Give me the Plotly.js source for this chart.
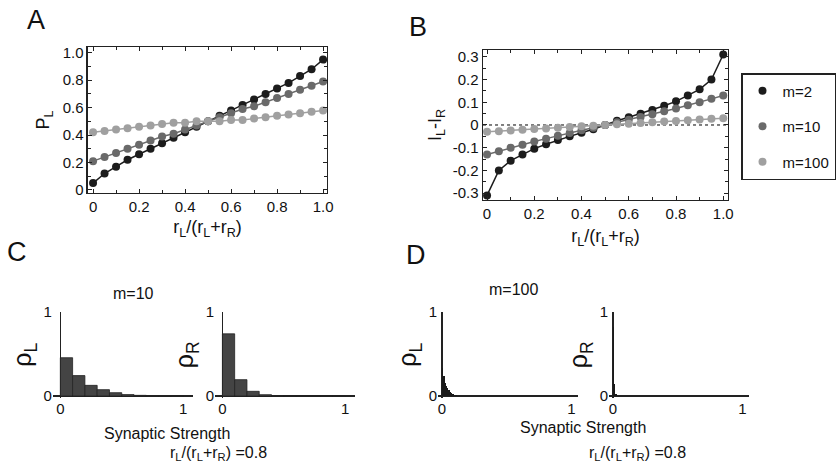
<!DOCTYPE html>
<html>
<head>
<meta charset="utf-8">
<script src="https://cdn.plot.ly/plotly-3.0.1.min.js"></script>
<style>html,body{margin:0;padding:0;background:#fff;}#chart{width:838px;height:470px;}</style>
</head>
<body>
<div id="chart"></div>
<script>
// ---- Data ----
const ratio = [0,0.05,0.1,0.15,0.2,0.25,0.3,0.35,0.4,0.45,0.5,0.55,0.6,0.65,0.7,0.75,0.8,0.85,0.9,0.95,1.0];
const seriesNames = ['m=2','m=10','m=100'];
const pL_m2   = [0.05,0.12,0.17,0.22,0.26,0.30,0.34,0.38,0.42,0.46,0.50,0.54,0.58,0.62,0.66,0.70,0.74,0.78,0.83,0.88,0.95];
const pL_m10  = [0.21,0.24,0.27,0.30,0.33,0.36,0.39,0.41,0.44,0.47,0.50,0.53,0.56,0.59,0.61,0.64,0.67,0.70,0.73,0.76,0.79];
const pL_m100 = [0.42,0.43,0.44,0.45,0.46,0.47,0.48,0.49,0.49,0.50,0.50,0.50,0.51,0.51,0.52,0.53,0.54,0.55,0.56,0.57,0.58];
const dI_m2   = [-0.31,-0.20,-0.157,-0.13,-0.104,-0.085,-0.066,-0.05,-0.034,-0.019,0,0.019,0.034,0.05,0.066,0.085,0.104,0.13,0.157,0.20,0.31];
const dI_m10  = [-0.13,-0.115,-0.10,-0.087,-0.073,-0.06,-0.047,-0.035,-0.023,-0.012,0,0.012,0.023,0.035,0.047,0.06,0.073,0.087,0.10,0.115,0.13];
const dI_m100 = [-0.030,-0.027,-0.024,-0.021,-0.018,-0.015,-0.012,-0.009,-0.006,-0.003,0,0.003,0.006,0.009,0.012,0.015,0.018,0.021,0.024,0.027,0.030];

const xTickVals = [0,0.2,0.4,0.6,0.8,1.0];
const xTickText = ['0','0.2','0.4','0.6','0.8','1.0'];
const pTickVals = [0,0.2,0.4,0.6,0.8,1.0];
const pTickText = ['0','0.2','0.4','0.6','0.8','1.0'];
const iTickVals = [-0.3,-0.2,-0.1,0,0.1,0.2,0.3];
const iTickText = ['-0.3','-0.2','-0.1','0','0.1','0.2','0.3'];

// Histograms, m=10 (bin width 0.1)
const binsC = [0.05,0.15,0.25,0.35,0.45,0.55,0.65,0.75,0.85,0.95];
const rhoL_m10 = [0.456,0.243,0.127,0.076,0.040,0.017,0.008,0.004,0.002,0.001];
const rhoR_m10 = [0.74,0.195,0.056,0.016,0.003,0.001,0,0,0,0];
// Histograms, m=100 (bin width 0.01)
const binsD = [0.005,0.015,0.025,0.035,0.045,0.055,0.065,0.075,0.085,0.095,0.105,0.115,0.125,0.135,0.145];
const rhoL_m100 = [0.33,0.24,0.16,0.12,0.09,0.07,0.05,0.035,0.025,0.018,0.012,0.008,0.005,0.003,0.002];
const rhoR_m100 = [0.82,0.14,0.02,0.003,0,0,0,0,0,0,0,0,0,0,0];
const histTicks = [0,1];

// ---- Styles ----
const colors = ['#1c1c1c','#6a6a6a','#a0a0a0'];
const FONT = 'Liberation Sans, Arial, sans-serif';
const TICK = 15, ATITLE = 18;

const traces = [];
const pSeries = [pL_m2,pL_m10,pL_m100];
const iSeries = [dI_m2,dI_m10,dI_m100];
for (let k=0;k<3;k++){
  traces.push({x:ratio,y:pSeries[k],xaxis:'x',yaxis:'y',mode:'lines+markers',
    line:{color:colors[k],width:1.5},marker:{color:colors[k],size:8},showlegend:false});
}
for (let k=0;k<3;k++){
  traces.push({x:ratio,y:iSeries[k],xaxis:'x2',yaxis:'y2',mode:'lines+markers',
    line:{color:colors[k],width:1.5},marker:{color:colors[k],size:8},showlegend:false});
}
// legend entries (markers only)
for (let k=0;k<3;k++){
  traces.push({x:[null],y:[null],xaxis:'x2',yaxis:'y2',mode:'markers',name:seriesNames[k],
    legendgroup:'g'+k,marker:{color:colors[k],size:8},showlegend:true});
}
const barC = {color:'#444',line:{color:'#222',width:0.8}};
traces.push({type:'bar',x:binsC,y:rhoL_m10,width:0.1,xaxis:'x3',yaxis:'y3',marker:barC,showlegend:false});
traces.push({type:'bar',x:binsC,y:rhoR_m10,width:0.1,xaxis:'x4',yaxis:'y4',marker:barC,showlegend:false});
const barD = {color:'#1a1a1a',line:{width:0}};
traces.push({type:'bar',x:binsD,y:rhoL_m100,width:0.01,xaxis:'x5',yaxis:'y5',marker:barD,showlegend:false});
traces.push({type:'bar',x:binsD,y:rhoR_m100,width:0.01,xaxis:'x6',yaxis:'y6',marker:barD,showlegend:false});

function frameAxis(extra){
  return Object.assign({
    showline:true, mirror:'allticks', linecolor:'#222', linewidth:1.5,
    ticks:'inside', ticklen:4, tickcolor:'#222', tickwidth:1,
    showgrid:false, zeroline:false, tickfont:{family:FONT,size:TICK,color:'#111'},
    tickmode:'array', automargin:false
  }, extra);
}
function histX(domain, range){
  return {domain:domain, range:range, showline:false, showgrid:false,
    zeroline:true, zerolinecolor:'#222', zerolinewidth:1.5,
    ticks:'', tickmode:'array', tickvals:histTicks, ticktext:['0','1'],
    tickfont:{family:FONT,size:TICK,color:'#111'}, automargin:false};
}
function histY(domain, anchor, title){
  return {domain:domain, anchor:anchor, range:[-0.02,1.0], showline:false, showgrid:false,
    zeroline:true, zerolinecolor:'#222', zerolinewidth:1.5,
    ticks:'', tickmode:'array', tickvals:histTicks, ticktext:['0','1'],
    tickfont:{family:FONT,size:TICK,color:'#111'}, automargin:false,
    title:{text:title, font:{family:FONT,size:25,color:'#111'}, standoff:4}};
}

const sub = (s)=>'<sub>'+s+'</sub>';
const ratioTitle = 'r'+sub('L')+'/(r'+sub('L')+'+r'+sub('R')+')';

const layout = {
  width:838, height:470,
  margin:{l:0,r:0,t:0,b:0,autoexpand:false},
  paper_bgcolor:'#fff', plot_bgcolor:'#fff',
  font:{family:FONT,color:'#111'},
  bargap:0,
  xaxis: frameAxis({domain:[0.1050,0.3902], range:[-0.022,1.017], anchor:'y',
    tickvals:xTickVals, ticktext:xTickText,
    minor:{ticks:'inside',dtick:0.1,tick0:0,ticklen:3,tickcolor:'#222'},
    title:{text:ratioTitle,font:{family:FONT,size:ATITLE},standoff:6}}),
  yaxis: frameAxis({domain:[0.5894,0.9], range:[-0.022,1.042], anchor:'x',
    tickvals:pTickVals, ticktext:pTickText,
    minor:{ticks:'inside',dtick:0.1,tick0:0,ticklen:3,tickcolor:'#222'},
    title:{text:'P'+sub('L'),font:{family:FONT,size:ATITLE},standoff:8}}),
  xaxis2: frameAxis({domain:[0.5764,0.8687], range:[-0.017,1.02], anchor:'y2',
    tickvals:xTickVals, ticktext:xTickText,
    minor:{ticks:'inside',dtick:0.1,tick0:0,ticklen:3,tickcolor:'#222'},
    title:{text:ratioTitle,font:{family:FONT,size:ATITLE},standoff:8}}),
  yaxis2: frameAxis({domain:[0.5745,0.8936], range:[-0.33,0.33], anchor:'x2',
    tickvals:iTickVals, ticktext:iTickText,
    minor:{ticks:'inside',dtick:0.05,tick0:0,ticklen:3,tickcolor:'#222'},
    title:{text:'I'+sub('L')+'-I'+sub('R'),font:{family:FONT,size:ATITLE},standoff:6}}),
  xaxis3: Object.assign(histX([0.0632,0.2303],[-0.06,1.08]),{anchor:'y3'}),
  yaxis3: histY([0.1538,0.3362],'x3','ρ'+sub('L')),
  xaxis4: Object.assign(histX([0.2566,0.4236],[-0.06,1.08]),{anchor:'y4'}),
  yaxis4: histY([0.1538,0.3362],'x4','ρ'+sub('R')),
  xaxis5: Object.assign(histX([0.5227,0.6897],[-0.03,1.05]),{anchor:'y5'}),
  yaxis5: histY([0.1538,0.3362],'x5','ρ'+sub('L')),
  xaxis6: Object.assign(histX([0.7267,0.8938],[-0.03,1.05]),{anchor:'y6'}),
  yaxis6: histY([0.1538,0.3362],'x6','ρ'+sub('R')),
  shapes:[
    {type:'line', xref:'x2 domain', yref:'y2', x0:0, x1:1, y0:0, y1:0,
     line:{color:'#000',width:1,dash:'dot'}, layer:'below'}
  ],
  legend:{x:741/838, y:1-73/470, xanchor:'left', yanchor:'top',
    bordercolor:'#222', borderwidth:1.5, bgcolor:'#fff',
    font:{family:FONT,size:15,color:'#111'},
    traceorder:'grouped', tracegroupgap:13, itemwidth:30},
  annotations:[
    {text:'A',x:36/838,y:1-20/470},
    {text:'B',x:418/838,y:1-27/470},
    {text:'C',x:17/838,y:1-252/470},
    {text:'D',x:416/838,y:1-255/470}
  ].map(a=>Object.assign({xref:'paper',yref:'paper',showarrow:false,xanchor:'center',yanchor:'middle',
     font:{family:FONT,size:27,color:'#111'}},a)).concat([
    {text:'m=10',x:133/838,y:1-293/470},
    {text:'m=100',x:513/838,y:1-289/470},
    {text:'Synaptic Strength',x:167/838,y:1-433/470},
    {text:'Synaptic Strength',x:583/838,y:1-427/470},
    {text:ratioTitle+' =0.8',x:218/838,y:1-453/470},
    {text:ratioTitle+' =0.8',x:637/838,y:1-453/470}
  ].map(a=>Object.assign({xref:'paper',yref:'paper',showarrow:false,xanchor:'center',yanchor:'middle',
     font:{family:FONT,size:16,color:'#111'}},a)))
};

Plotly.newPlot('chart', traces, layout, {staticPlot:true, displayModeBar:false});
</script>
</body>
</html>
